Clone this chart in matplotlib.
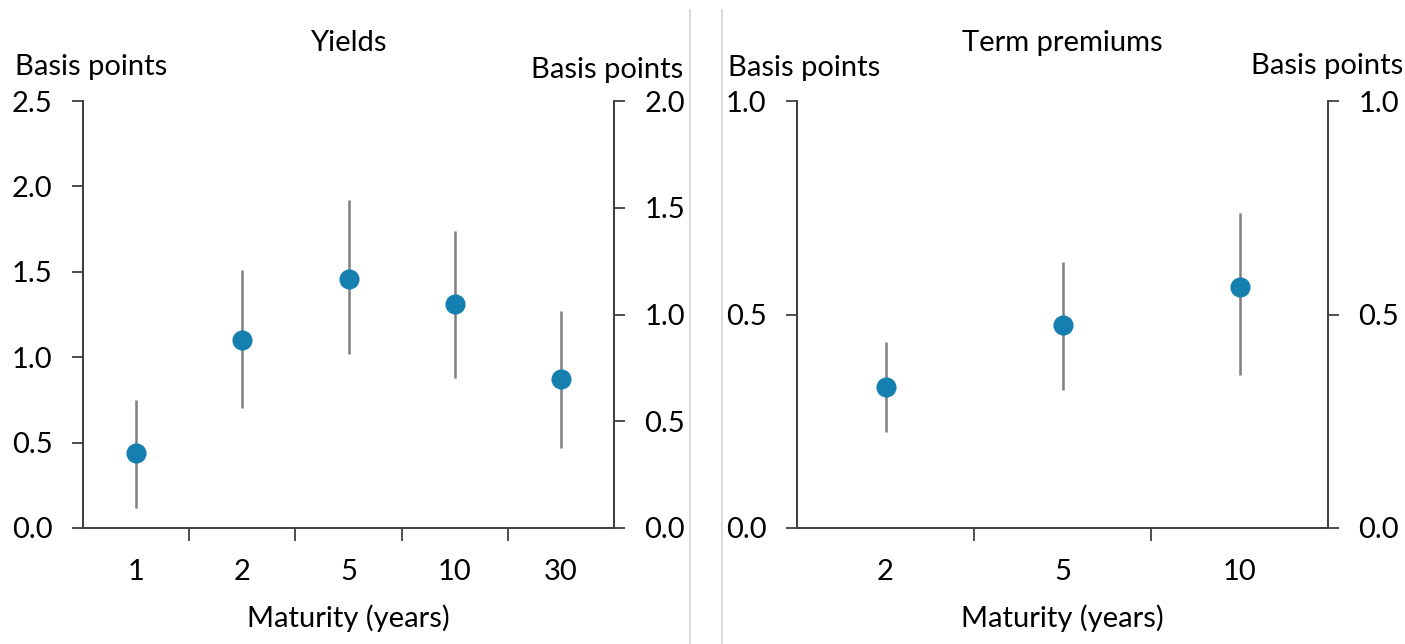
import matplotlib
matplotlib.use('Agg')
import matplotlib.pyplot as plt
from matplotlib.lines import Line2D
import numpy as np

plt.rcParams['font.family'] = ['Lato', 'DejaVu Sans']

# Yields panel
yield_maturities = ['1', '2', '5', '10', '30']
yield_est = [0.44, 1.10, 1.46, 1.31, 0.87]
yield_lo = [0.12, 0.70, 1.02, 0.88, 0.47]
yield_hi = [0.75, 1.51, 1.92, 1.74, 1.27]

# Term premiums panel
tp_maturities = ['2', '5', '10']
tp_est = [0.330, 0.475, 0.564]
tp_lo = [0.225, 0.323, 0.358]
tp_hi = [0.436, 0.623, 0.738]

DOT = '#1580b0'
BAR = '#7f7f7f'
AXC = '#404040'
FS = 21

W, H = 1405, 644
fig = plt.figure(figsize=(W / 100, H / 100), dpi=100)


def panel(x0, x1, cats, est, lo, hi, ylim_l, yticks_l, ylim_r, yticks_r, title):
    ax = fig.add_axes([x0 / W, 1 - 528 / H, (x1 - x0) / W, 427 / H])
    n = len(cats)
    x = np.arange(n)
    est = np.array(est)
    yerr = [est - np.array(lo), np.array(hi) - est]
    ax.errorbar(x, est, yerr=yerr, fmt='o', color=DOT, ms=13.5,
                ecolor=BAR, elinewidth=1.8, capsize=0, zorder=3)
    ax.set_xlim(-0.5, n - 0.5)
    ax.set_ylim(*ylim_l)
    ax.set_yticks(yticks_l)
    ax.set_yticklabels([f'{v:.1f}' for v in yticks_l])
    # ticks sit between categories, labels at the category centres
    ax.set_xticks(np.arange(n - 1) + 0.5)
    ax.set_xticklabels([])
    ax.set_xticks(x, minor=True)
    ax.set_xticklabels(cats, minor=True)
    ax.tick_params(axis='x', which='major', length=9, width=1.3, color=AXC, direction='out')
    ax.tick_params(axis='x', which='minor', length=0, pad=22, labelsize=FS)
    ax.tick_params(axis='y', length=8, width=1.3, color=AXC, labelsize=FS, pad=14)
    ax.spines['top'].set_visible(False)
    for s in ['left', 'bottom', 'right']:
        ax.spines[s].set_color(AXC)
        ax.spines[s].set_linewidth(1.3)
    ax.set_xlabel('Maturity (years)', fontsize=FS, labelpad=14)

    ax2 = ax.twinx()
    ax2.set_ylim(*ylim_r)
    ax2.set_yticks(yticks_r)
    ax2.set_yticklabels([f'{v:.1f}' for v in yticks_r])
    ax2.tick_params(axis='y', length=8, width=1.3, color=AXC, labelsize=FS, pad=14)
    ax2.spines['top'].set_visible(False)
    for s in ['left', 'bottom', 'right']:
        ax2.spines[s].set_color(AXC)
        ax2.spines[s].set_linewidth(1.3)

    xc = (x0 + x1) / 2
    fig.text(xc / W, 1 - 43 / H, title, ha='center', va='center', fontsize=FS)
    return ax


panel(83, 614, yield_maturities, yield_est, yield_lo, yield_hi,
      (0, 2.5), [0, 0.5, 1.0, 1.5, 2.0, 2.5],
      (0, 2.0), [0, 0.5, 1.0, 1.5, 2.0], 'Yields')
panel(797, 1328, tp_maturities, tp_est, tp_lo, tp_hi,
      (0, 1.0), [0, 0.5, 1.0],
      (0, 1.0), [0, 0.5, 1.0], 'Term premiums')

# axis unit labels
for xp, yp, ha in [(15, 67, 'left'), (683, 70, 'right'), (728, 68, 'left'), (1403, 66, 'right')]:
    fig.text(xp / W, 1 - yp / H, 'Basis points', ha=ha, va='center', fontsize=FS)

# panel separators
for xp in [690, 722]:
    fig.add_artist(Line2D([xp / W, xp / W], [0, 1 - 10 / H], color='#d4d4d4', lw=1.2))

fig.savefig('out.png', dpi=100, facecolor='white')
